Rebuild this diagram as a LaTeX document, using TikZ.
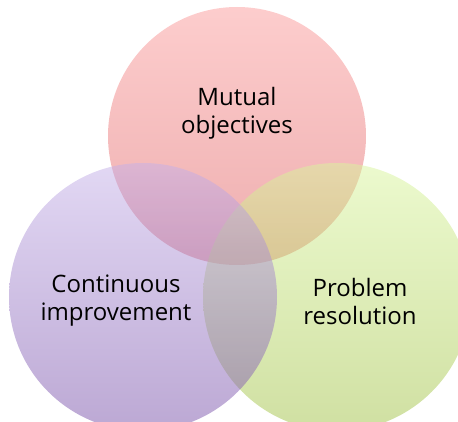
\documentclass[tikz,border=0pt]{standalone}
\usepackage{fontspec}
\setmainfont{Open Sans}
% half-transparent gradient tints for the three discs
\definecolor{pinkTop}{HTML}{FB9B9B}
\definecolor{pinkBot}{HTML}{DD5D5F}
\definecolor{lilacTop}{HTML}{C5B1E9}
\definecolor{lilacBot}{HTML}{7951A9}
\definecolor{limeTop}{HTML}{D9F59D}
\definecolor{limeBot}{HTML}{A1C145}
\begin{document}
\begin{tikzpicture}[x=1pt,y=1pt,
  disc/.style={circle, inner sep=0pt, draw=none, shade, opacity=0.5},
  caption/.style={align=center, font=\fontsize{24}{28}\selectfont, text=black}]
  \useasboundingbox (0,0) rectangle (458,421);
  \clip (0,0) rectangle (458,421);
  \node[disc, minimum size=258pt, top color=pinkTop, bottom color=pinkBot] (goals) at (237,285) {};
  \node[disc, minimum size=268pt, top color=limeTop, bottom color=limeBot] (resolve) at (337,124) {};
  \node[disc, minimum size=268pt, top color=lilacTop, bottom color=lilacBot] (improve) at (143,124) {};
  \node[caption] (goalsText) at (237,308) {Mutual\\objectives};
  \node[caption] (improveText) at (116,120) {Continuous\\improvement};
  \node[caption] (resolveText) at (360,120) {Problem\\resolution};
\end{tikzpicture}
\end{document}
